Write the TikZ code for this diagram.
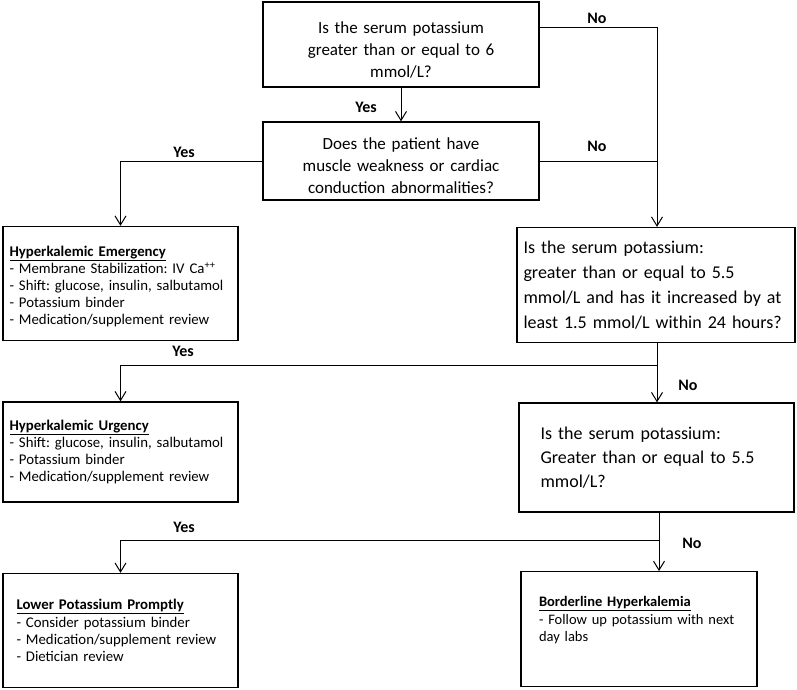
\documentclass[tikz,border=0pt]{standalone}
\usepackage{fontspec}
\setmainfont{Carlito}
\usetikzlibrary{arrows.meta}
\frenchspacing

\begin{document}
\begin{tikzpicture}[x=1pt, y=-1pt, line width=1pt,
		>={Straight Barb[length=9pt,width=11pt]},
		ask/.style={draw, line width=1.3pt, inner sep=0pt, font=\fontsize{17}{22.2}\selectfont},
		act/.style={draw, line width=1.3pt, inner sep=0pt, align=left, minimum width=235pt, font=\fontsize{14.8}{17.2}\selectfont},
		lbl/.style={font=\fontsize{16}{18}\selectfont\bfseries}]
			\useasboundingbox (0,0) rectangle (797,690);
			
			% questions
			\node[ask, minimum width=276pt, minimum height=85pt, text width=262pt, align=center, text height=23pt] (q1) at (401,44.5) {Is the serum potassium\\greater than or equal to 6\\mmol/L?};
			\node[ask, minimum width=276pt, minimum height=78pt, text width=262pt, align=center, text height=21pt] (q2) at (401,161) {Does the patient have\\muscle weakness or cardiac\\conduction abnormalities?};
			\node[ask, minimum width=278pt, minimum height=115pt, text width=265pt, align=left, font=\fontsize{18}{25}\selectfont] (q3) at (656,285) {Is the serum potassium:\\greater than or equal to 5.5\\mmol/L and has it increased by at\\least 1.5 mmol/L within 24 hours?};
			\node[ask, minimum width=275pt, minimum height=109pt, text width=232pt, align=left, font=\fontsize{18}{24.2}\selectfont] (q4) at (656.5,457.5) {Is the serum potassium:\\Greater than or equal to 5.5\\mmol/L?};
			
			% actions
			\node[act, minimum height=114pt, text width=222pt, text height=16.5pt] (a1) at (120.5,283.5) {\underline{\textbf{Hyperkalemic Emergency}}\\- Membrane Stabilization: IV Ca\textsuperscript{++}\\- Shift: glucose, insulin, salbutamol\\- Potassium binder\\- Medication/supplement review};
			\node[act, minimum height=100pt, text width=222pt] (a2) at (120.5,452) {\underline{\textbf{Hyperkalemic Urgency}}\\- Shift: glucose, insulin, salbutamol\\- Potassium binder\\- Medication/supplement review};
			\node[act, minimum height=114pt, text width=208pt] (a3) at (120.5,630.5) {\underline{\textbf{Lower Potassium Promptly}}\\- Consider potassium binder\\- Medication/supplement review\\- Dietician review};
			\node[act, minimum width=236pt, minimum height=115pt, text width=200pt, font=\fontsize{14.5}{17.4}\selectfont, text height=10.5pt, text depth=55.5pt] (a4) at (639,629.2) {\underline{\textbf{Borderline Hyperkalemia}}\\- Follow up potassium with next\\day labs};
			
			\coordinate (k1) at (657,28);
			\coordinate (k2) at (657,365);
			\coordinate (k3) at (659,540);
			
			\draw[->] (q1) -- (q2);
			\draw[->] (q1.east |- k1) -- (k1) -- (k1 |- q3.north);
			\draw (q2.east) -- (q2.east -| k1);
			\draw[->] (q2.west) -| (a1.north);
			\draw[->] (q3.south -| k2) -- (k2 |- q4.north);
			\draw[->] (k2) -| (a2.north);
			\draw[->] (q4.south -| k3) -- (k3 |- a4.north);
			\draw[->] (k3) -| (a3.north);
			
			\node[lbl] (n1) at (597,18) {No};
			\node[lbl] (n2) at (597,146) {No};
			\node[lbl] (y1) at (366,107) {Yes};
			\node[lbl] (y2) at (184,152) {Yes};
			\node[lbl] (y3) at (183,351) {Yes};
			\node[lbl] (n3) at (688,385) {No};
			\node[lbl] (y4) at (184,527) {Yes};
			\node[lbl] (n4) at (692,543) {No};
		\end{tikzpicture}
\end{document}
